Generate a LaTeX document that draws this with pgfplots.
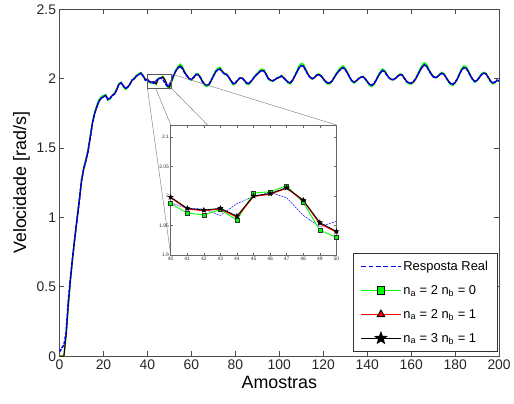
\documentclass[border=0pt]{standalone}
\usepackage{fontspec}
\setmainfont{Liberation Sans}
\usepackage{pgfplots}
\pgfplotsset{compat=1.18}
\usepackage{pgfplotstable}

% filled five-point star (MATLAB pentagram)
\pgfdeclareplotmark{pstar}{%
  \pgfpathmoveto{\pgfpointpolar{90}{\pgfplotmarksize}}%
  \pgfpathlineto{\pgfpointpolar{126}{0.42\pgfplotmarksize}}%
  \pgfpathlineto{\pgfpointpolar{162}{\pgfplotmarksize}}%
  \pgfpathlineto{\pgfpointpolar{198}{0.42\pgfplotmarksize}}%
  \pgfpathlineto{\pgfpointpolar{234}{\pgfplotmarksize}}%
  \pgfpathlineto{\pgfpointpolar{270}{0.42\pgfplotmarksize}}%
  \pgfpathlineto{\pgfpointpolar{306}{\pgfplotmarksize}}%
  \pgfpathlineto{\pgfpointpolar{342}{0.42\pgfplotmarksize}}%
  \pgfpathlineto{\pgfpointpolar{18}{\pgfplotmarksize}}%
  \pgfpathlineto{\pgfpointpolar{54}{0.42\pgfplotmarksize}}%
  \pgfpathclose\pgfusepathqfillstroke}

% x: amostra, b: resposta real, g: na=2 nb=0, r: na=2 nb=1, k: na=3 nb=1
\pgfplotstableread{
x b g r k
0 0.03 0 0 0
1 0.06 0 0 0
2 0.08 0 0 0
3 0.17 0.15 0.16 0.16
4 0.40 0.36 0.38 0.38
5 0.57 0.55 0.56 0.56
6 0.72 0.71 0.72 0.72
7 0.86 0.86 0.86 0.86
8 0.99 1.00 0.99 0.99
9 1.12 1.13 1.12 1.12
10 1.27 1.26 1.26 1.26
11 1.35 1.36 1.35 1.35
12 1.41 1.42 1.41 1.41
13 1.48 1.49 1.48 1.48
14 1.58 1.59 1.58 1.58
15 1.68 1.69 1.68 1.68
16 1.75 1.76 1.75 1.75
17 1.80 1.81 1.80 1.80
18 1.84 1.85 1.84 1.84
19 1.86 1.87 1.86 1.86
20 1.87 1.88 1.87 1.87
21 1.88 1.885 1.88 1.88
22 1.85 1.845 1.855 1.855
23 1.86 1.855 1.86 1.86
24 1.88 1.88 1.88 1.88
25 1.89 1.895 1.89 1.89
26 1.92 1.925 1.92 1.92
27 1.96 1.965 1.96 1.96
28 1.97 1.975 1.97 1.97
29 1.95 1.945 1.952 1.951
30 1.93 1.925 1.932 1.931
31 1.94 1.935 1.94 1.94
32 1.96 1.96 1.96 1.96
33 1.99 1.99 1.99 1.99
34 2.00 2.005 2.00 2.00
35 2.02 2.025 2.02 2.02
36 2.03 2.035 2.03 2.03
37 2.04 2.045 2.04 2.04
38 2.02 2.025 2.022 2.021
39 1.99 1.995 1.996 1.995
40 1.988 1.987 1.997 1.998
41 1.979 1.971 1.978 1.979
42 1.978 1.968 1.975 1.976
43 1.967 1.977 1.978 1.979
44 1.987 1.959 1.964 1.966
45 1.999 2.005 1.999 2.000
46 2.006 2.007 2.003 2.004
47 1.997 2.017 2.013 2.014
48 1.967 1.989 1.992 1.993
49 1.948 1.942 1.953 1.955
50 1.957 1.930 1.939 1.940
51 1.990 1.975 1.985 1.986
52 2.030 2.020 2.025 2.026
53 2.060 2.065 2.058 2.059
54 2.080 2.090 2.080 2.081
55 2.090 2.105 2.092 2.092
56 2.070 2.085 2.075 2.075
57 2.040 2.048 2.045 2.045
58 2.020 2.022 2.022 2.022
59 2.000 1.997 2.001 2.001
60 1.995 1.990 1.995 1.995
61 2.010 2.008 2.008 2.008
62 2.030 2.035 2.028 2.028
63 2.030 2.036 2.032 2.032
64 2.010 2.013 2.014 2.014
65 1.980 1.975 1.984 1.984
66 1.960 1.952 1.962 1.962
67 1.955 1.945 1.954 1.954
68 1.960 1.952 1.958 1.958
69 1.990 1.985 1.986 1.986
70 2.020 2.022 2.018 2.018
71 2.050 2.058 2.048 2.048
72 2.065 2.075 2.064 2.064
73 2.070 2.082 2.071 2.071
74 2.050 2.058 2.054 2.054
75 2.035 2.040 2.037 2.037
76 2.030 2.035 2.031 2.031
77 2.010 2.012 2.012 2.012
78 1.985 1.982 1.987 1.987
79 1.965 1.958 1.966 1.966
80 1.970 1.965 1.968 1.968
81 1.990 1.988 1.988 1.988
82 2.005 2.006 2.004 2.004
83 2.005 2.007 2.006 2.006
84 1.990 1.988 1.992 1.992
85 1.970 1.965 1.972 1.972
86 1.965 1.958 1.965 1.965
87 1.980 1.976 1.978 1.978
88 2.000 2.000 1.998 1.998
89 2.020 2.023 2.018 2.018
90 2.035 2.040 2.034 2.034
91 2.050 2.058 2.049 2.049
92 2.060 2.070 2.060 2.060
93 2.055 2.065 2.057 2.057
94 2.030 2.036 2.033 2.033
95 2.000 2.000 2.003 2.003
96 1.990 1.988 1.991 1.991
97 1.985 1.982 1.985 1.985
98 1.995 1.993 1.994 1.994
99 2.005 2.006 2.004 2.004
100 2.010 2.012 2.010 2.010
101 2.020 2.024 2.020 2.020
102 2.005 2.006 2.008 2.008
103 1.990 1.988 1.992 1.992
104 1.975 1.970 1.976 1.976
105 1.970 1.964 1.970 1.970
106 1.990 1.987 1.987 1.987
107 2.020 2.022 2.017 2.017
108 2.050 2.058 2.048 2.048
109 2.080 2.092 2.078 2.078
110 2.095 2.110 2.095 2.095
111 2.090 2.104 2.092 2.092
112 2.060 2.070 2.064 2.064
113 2.030 2.035 2.033 2.033
114 2.010 2.011 2.012 2.012
115 2.000 1.998 2.001 2.001
116 2.010 2.010 2.009 2.009
117 2.025 2.029 2.024 2.024
118 2.030 2.035 2.030 2.030
119 2.020 2.023 2.021 2.021
120 2.000 2.000 2.002 2.002
121 1.980 1.976 1.982 1.982
122 1.970 1.963 1.971 1.971
123 1.970 1.964 1.969 1.969
124 1.985 1.982 1.983 1.983
125 2.010 2.012 2.008 2.008
126 2.035 2.041 2.033 2.033
127 2.055 2.064 2.054 2.054
128 2.070 2.081 2.070 2.070
129 2.080 2.093 2.081 2.081
130 2.065 2.075 2.068 2.068
131 2.040 2.046 2.043 2.043
132 2.010 2.011 2.013 2.013
133 1.985 1.982 1.987 1.987
134 1.976 1.970 1.977 1.977
135 1.985 1.982 1.984 1.984
136 2.000 2.000 1.999 1.999
137 2.010 2.012 2.009 2.009
138 2.015 2.018 2.015 2.015
139 2.000 2.000 2.003 2.003
140 1.980 1.976 1.982 1.982
141 1.960 1.953 1.962 1.962
142 1.953 1.944 1.953 1.953
143 1.965 1.958 1.962 1.962
144 1.990 1.988 1.987 1.987
145 2.020 2.024 2.017 2.017
146 2.045 2.053 2.043 2.043
147 2.060 2.070 2.060 2.060
148 2.050 2.058 2.053 2.053
149 2.025 2.029 2.028 2.028
150 2.005 2.006 2.007 2.007
151 1.995 1.993 1.996 1.996
152 1.995 1.994 1.994 1.994
153 2.005 2.006 2.004 2.004
154 2.020 2.024 2.019 2.019
155 2.030 2.035 2.030 2.030
156 2.025 2.029 2.027 2.027
157 2.000 2.000 2.003 2.003
158 1.980 1.976 1.982 1.982
159 1.970 1.964 1.971 1.971
160 1.968 1.962 1.967 1.967
161 1.980 1.976 1.977 1.977
162 2.000 2.000 1.997 1.997
163 2.030 2.035 2.027 2.027
164 2.060 2.070 2.058 2.058
165 2.085 2.098 2.084 2.084
166 2.100 2.115 2.100 2.100
167 2.090 2.104 2.093 2.093
168 2.060 2.070 2.064 2.064
169 2.035 2.041 2.038 2.038
170 2.015 2.017 2.017 2.017
171 2.007 2.008 2.008 2.008
172 2.015 2.017 2.014 2.014
173 2.030 2.035 2.029 2.029
174 2.040 2.046 2.040 2.040
175 2.030 2.035 2.032 2.032
176 2.005 2.006 2.008 2.008
177 1.980 1.976 1.983 1.983
178 1.965 1.958 1.966 1.966
179 1.960 1.953 1.960 1.960
180 1.975 1.970 1.972 1.972
181 2.000 2.000 1.997 1.997
182 2.035 2.040 2.032 2.032
183 2.065 2.075 2.063 2.063
184 2.080 2.092 2.080 2.080
185 2.075 2.087 2.077 2.077
186 2.050 2.058 2.053 2.053
187 2.020 2.023 2.023 2.023
188 1.995 1.993 1.997 1.997
189 1.980 1.976 1.981 1.981
190 1.990 1.988 1.988 1.988
191 2.010 2.012 2.008 2.008
192 2.030 2.035 2.028 2.028
193 2.040 2.046 2.040 2.040
194 2.035 2.040 2.037 2.037
195 2.010 2.011 2.013 2.013
196 1.985 1.982 1.987 1.987
197 1.970 1.964 1.971 1.971
198 1.975 1.970 1.974 1.974
199 1.990 1.988 1.988 1.988
200 1.985 1.982 1.986 1.986
}\velo

\begin{document}
\begin{tikzpicture}
\begin{axis}[
  at={(0pt,0pt)}, anchor=south west,
  scale only axis, width=443pt, height=349.5pt,
  xmin=0, xmax=200, ymin=0, ymax=2.5,
  xtick={0,20,40,60,80,100,120,140,160,180,200},
  ytick={0,0.5,1,1.5,2,2.5},
  tick align=inside, major tick length=5pt,
  axis line style={draw=black!70, line width=1pt},
  tick style={draw=black!70, line width=0.8pt},
  ticklabel style={font=\fontsize{14}{16}\selectfont, text=black!85},
  /pgf/number format/assume math mode=true,
  xlabel={Amostras}, ylabel={Velocidade [rad/s]},
  label style={font=\fontsize{18}{21}\selectfont},
  legend image code/.code={\draw[mark repeat=2,mark phase=2] plot coordinates {(0pt,0pt)(20pt,0pt)(40pt,0pt)};},
  legend style={at={(0.997,0.014)}, anchor=south east, draw=black!80, line width=0.7pt,
    font=\fontsize{13}{15}\selectfont, row sep=9.5pt, inner xsep=7.5pt, inner ysep=5.5pt},
  legend cell align=left,
]
\addlegendimage{blue, line width=1.3pt, dash pattern=on 5pt off 2.5pt}
\addlegendentry{Resposta Real}
\addlegendimage{green, line width=1.3pt, mark=square*, mark size=3.8pt, mark options={solid, fill=green, draw=black, line width=0.9pt}}
\addlegendentry{n\textsubscript{a} = 2 n\textsubscript{b} = 0}
\addlegendimage{red, line width=1.3pt, mark=triangle*, mark size=4.4pt, mark options={solid, fill=red, draw=black, line width=0.9pt}}
\addlegendentry{n\textsubscript{a} = 2 n\textsubscript{b} = 1}
\addlegendimage{black, line width=1.3pt, mark=pstar, mark size=5.5pt, mark options={solid, fill=black, draw=black}}
\addlegendentry{n\textsubscript{a} = 3 n\textsubscript{b} = 1}

\addplot[forget plot, green, line width=1.5pt] table[x=x, y=g] {\velo};
\addplot[forget plot, red, line width=1pt] table[x=x, y=r] {\velo};
\addplot[forget plot, black, line width=0.9pt] table[x=x, y=k] {\velo};
\addplot[forget plot, blue, line width=1.6pt, dash pattern=on 3.5pt off 1.2pt] table[x=x, y=b] {\velo};

% zoom box and connecting lines
\draw[black!65, line width=0.6pt] (axis cs:40,1.93) rectangle (axis cs:51,2.034);
\draw[black!55, line width=0.4pt] (axis cs:40,1.93) -- (axis cs:50.6,0.730);
\draw[black!55, line width=0.4pt] (axis cs:43.8,1.93) -- (axis cs:50.6,1.667);
\draw[black!55, line width=0.4pt] (axis cs:51,1.93) -- (axis cs:67.3,1.667);
\draw[black!55, line width=0.4pt] (axis cs:51,2.034) -- (axis cs:125.9,1.667);
\end{axis}

\begin{axis}[
  at={(112pt,102pt)}, anchor=south west,
  scale only axis, width=167pt, height=131pt,
  xmin=40, xmax=50, ymin=1.9, ymax=2.12,
  xtick={40,41,42,43,44,45,46,47,48,49,50},
  ytick={1.9,1.95,2,2.05,2.1},
  tick align=inside, major tick length=2.5pt,
  axis background/.style={fill=white},
  axis line style={draw=black!60, line width=0.5pt},
  tick style={draw=black!60, line width=0.4pt},
  ticklabel style={font=\fontsize{5}{6}\selectfont, text=black!80, inner sep=1.5pt},
  /pgf/number format/assume math mode=true,
]
\addplot[blue, line width=0.5pt, dash pattern=on 2pt off 1pt, restrict x to domain=40:50] table[x=x, y=b] {\velo};
\addplot[green, line width=0.9pt, mark=square*, mark size=2pt, mark options={fill=green, draw=black!80, line width=0.4pt}, restrict x to domain=40:50] table[x=x, y=g] {\velo};
\addplot[red, line width=1.1pt, mark=triangle*, mark size=1.8pt, mark options={fill=red, draw=black!80, line width=0.4pt}, restrict x to domain=40:50] table[x=x, y=r] {\velo};
\addplot[black, line width=0.8pt, mark=pstar, mark size=2.2pt, mark options={fill=black}, restrict x to domain=40:50] table[x=x, y=k] {\velo};
\end{axis}

\path (-60pt,-48pt) rectangle (454pt,359pt);
\end{tikzpicture}
\end{document}
